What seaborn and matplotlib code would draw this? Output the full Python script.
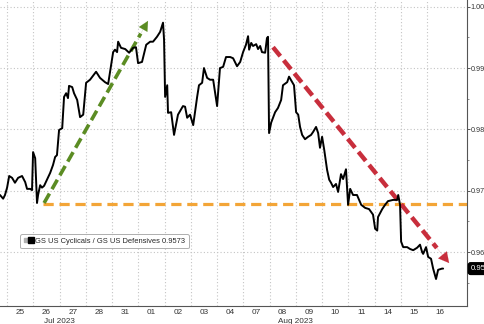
import matplotlib
matplotlib.use("Agg")
import matplotlib.pyplot as plt
import matplotlib.transforms as mtransforms
from matplotlib.lines import Line2D
from matplotlib.legend_handler import HandlerTuple
import numpy as np
import pandas as pd
import seaborn as sns

# ---------------- data (trading-day index, ratio value) ----------------
day_labels = ["25", "26", "27", "28", "31", "01", "02", "03", "04",
              "07", "08", "09", "10", "11", "14", "15", "16"]
month_labels = ["Jul 2023", "Aug 2023"]
month_label_pos = [2.0, 11.0]
month_break = [5]

t = [-0.27, -0.15, -0.08, 0.00, 0.08, 0.19, 0.30, 0.42, 0.57, 0.69, 0.76, 0.88, 0.95,
     0.99, 1.07, 1.14, 1.18, 1.26, 1.33, 1.41, 1.52, 1.64, 1.75, 1.83, 1.90, 1.98,
     2.10, 2.17, 2.25, 2.32, 2.36, 2.48, 2.55, 2.67, 2.78, 2.90, 3.01, 3.16, 3.39,
     3.54, 3.73, 3.85, 4.04, 4.11, 4.19, 4.23, 4.34, 4.50, 4.65, 4.80, 4.91, 4.99,
     5.14, 5.30, 5.45, 5.56, 5.71, 5.83, 5.94, 5.98, 6.02, 6.10, 6.13, 6.25, 6.36,
     6.51, 6.70, 6.78, 6.86, 6.97, 7.09, 7.24, 7.31, 7.43, 7.50, 7.62, 7.73, 7.85,
     8.00, 8.11, 8.23, 8.34, 8.50, 8.61, 8.76, 8.88, 8.99, 9.10, 9.18, 9.22, 9.30,
     9.37, 9.49, 9.56, 9.64, 9.71, 9.83, 9.90, 9.94, 9.98, 10.06, 10.13, 10.21,
     10.32, 10.44, 10.51, 10.67, 10.74, 10.86, 10.93, 11.01, 11.09, 11.16, 11.24,
     11.35, 11.47, 11.58, 11.66, 11.77, 11.85, 11.92, 12.00, 12.08, 12.19, 12.27,
     12.34, 12.42, 12.53, 12.61, 12.72, 12.80, 12.91, 12.99, 13.07, 13.18, 13.33,
     13.49, 13.64, 13.79, 13.94, 14.02, 14.10, 14.13, 14.29, 14.40, 14.51, 14.70,
     14.86, 14.90, 14.97, 15.01, 15.09, 15.24, 15.35, 15.47, 15.62, 15.73, 15.81,
     15.85, 15.96, 16.04, 16.15, 16.23, 16.34, 16.42, 16.57, 16.61]

ratio = [0.9693, 0.9687, 0.9693, 0.9705, 0.9724, 0.9721, 0.9713, 0.9721, 0.9724, 0.9714,
         0.9703, 0.9703, 0.9701, 0.9763, 0.9753, 0.9680, 0.9693, 0.9709, 0.9705, 0.9708,
         0.9718, 0.9729, 0.9742, 0.9755, 0.9758, 0.9799, 0.9802, 0.9853, 0.9859, 0.9851,
         0.9871, 0.9869, 0.9859, 0.9848, 0.9820, 0.9824, 0.9876, 0.9881, 0.9894, 0.9884,
         0.9877, 0.9874, 0.9926, 0.9930, 0.9926, 0.9943, 0.9933, 0.9931, 0.9925, 0.9933,
         0.9934, 0.9908, 0.9910, 0.9938, 0.9943, 0.9943, 0.9951, 0.9959, 0.9974, 0.9946,
         0.9853, 0.9872, 0.9827, 0.9828, 0.9791, 0.9824, 0.9838, 0.9837, 0.9819, 0.9824,
         0.9807, 0.9853, 0.9872, 0.9876, 0.9900, 0.9884, 0.9881, 0.9881, 0.9838, 0.9900,
         0.9902, 0.9918, 0.9918, 0.9916, 0.9903, 0.9910, 0.9926, 0.9938, 0.9952, 0.9930,
         0.9941, 0.9936, 0.9939, 0.9931, 0.9936, 0.9926, 0.9925, 0.9949, 0.9951, 0.9794,
         0.9811, 0.9819, 0.9828, 0.9835, 0.9848, 0.9872, 0.9877, 0.9886, 0.9877, 0.9872,
         0.9828, 0.9824, 0.9804, 0.9791, 0.9784, 0.9788, 0.9791, 0.9796, 0.9804, 0.9794,
         0.9770, 0.9788, 0.9767, 0.9734, 0.9718, 0.9713, 0.9706, 0.9711, 0.9698, 0.9727,
         0.9719, 0.9735, 0.9677, 0.9703, 0.9693, 0.9693, 0.9677, 0.9672, 0.9670, 0.9661,
         0.9638, 0.9635, 0.9657, 0.9670, 0.9677, 0.9683, 0.9685, 0.9685, 0.9693, 0.9677,
         0.9617, 0.9608, 0.9608, 0.9605, 0.9603, 0.9607, 0.9612, 0.9600, 0.9597, 0.9608,
         0.9592, 0.9589, 0.9573, 0.9556, 0.9571, 0.9573, 0.9573]

last_value = 0.9573
series_name = "GS US Cyclicals / GS US Defensives"

support_level = 0.9679
support_start = 1.37
up_arrow_x = [1.41, 5.37]
up_arrow_y = [0.9680, 0.9977]
down_arrow_x = [10.13, 16.84]
down_arrow_y = [0.9934, 0.9582]

y_ticks = [0.96, 0.97, 0.98, 0.99, 1.00]
y_minor = [0.955, 0.965, 0.975, 0.985, 0.995]

df = pd.DataFrame({"t": t, "ratio": ratio})

# ---------------- figure ----------------
sns.set_style("white")
plt.rcParams["font.family"] = ["Liberation Sans", "DejaVu Sans"]

FS = 5.9
TXT = "#333333"

fig = plt.figure(figsize=(4.85, 3.24), dpi=100)
ax = fig.add_axes([0, 18 / 324, 467 / 485, 306 / 324])

xmin, xmax = -0.27, 17.52
ymin, ymax = 0.9512, 1.0011
ax.set_xlim(xmin, xmax)
ax.set_ylim(ymin, ymax)

# grid
grid_kw = dict(color="#c4c4c4", lw=0.8, ls=(0, (1, 2)), zorder=0)
for k in range(len(day_labels)):
    ax.axvline(k, **grid_kw)
for yv in y_ticks:
    ax.axhline(yv, **grid_kw)

# support line
ax.plot([support_start, xmax], [support_level, support_level], color="#f3a537",
        lw=2.3, ls=(0, (3.2, 1.8)), zorder=2, solid_capstyle="butt")

# main series
sns.lineplot(data=df, x="t", y="ratio", ax=ax, color="black", lw=1.4, zorder=4,
             estimator=None, sort=False, legend=False)


def dashed_arrow(xs, ys, color, lw, dash, head_w, head_l):
    x0, x1 = xs
    y0, y1 = ys
    frac = 0.93
    ax.plot([x0, x0 + (x1 - x0) * frac], [y0, y0 + (y1 - y0) * frac], color=color,
            lw=lw, ls=(0, dash), zorder=3, solid_capstyle="butt", dash_capstyle="butt")
    ax.annotate("", xy=(x1, y1), xytext=(x0 + (x1 - x0) * 0.90, y0 + (y1 - y0) * 0.90),
                arrowprops=dict(arrowstyle=f"-|>,head_width={head_w},head_length={head_l}",
                                color=color, lw=0.1, shrinkA=0, shrinkB=0), zorder=3)


dashed_arrow(up_arrow_x, up_arrow_y, "#5b8c23", 2.6, (3.0, 1.4), 0.35, 0.7)
dashed_arrow(down_arrow_x, down_arrow_y, "#c82e3c", 3.2, (2.6, 1.2), 0.4, 0.75)

# axes styling
for s in ["left", "top"]:
    ax.spines[s].set_visible(False)
for s in ["right", "bottom"]:
    ax.spines[s].set_visible(True)
    ax.spines[s].set_color("#555555")
    ax.spines[s].set_linewidth(0.8)

ax.yaxis.tick_right()
ax.set_yticks(y_ticks)
ax.set_yticklabels([f"{v:.2f}" for v in y_ticks])
ax.set_yticks(y_minor, minor=True)
ax.tick_params(axis="y", which="major", direction="out", length=2.0, width=0.7,
               color="#555555", labelsize=5.2, labelcolor=TXT, pad=0.5)
ax.tick_params(axis="y", which="minor", direction="out", length=1.6, width=0.6,
               color="#777777")

ax.set_xticks([k + 0.5 for k in range(len(day_labels))])
ax.set_xticklabels(day_labels)
ax.set_xticks(month_break, minor=True)
ax.tick_params(axis="x", which="major", length=0, labelsize=FS,
               labelcolor=TXT, pad=2.0)
ax.tick_params(axis="x", which="minor", length=14, width=0.8, color="#555555")
ax.set_xlabel("")
ax.set_ylabel("")

trans = mtransforms.blended_transform_factory(ax.transData, ax.transAxes)
for lbl, pos in zip(month_labels, month_label_pos):
    ax.text(pos, -0.05, lbl, transform=trans, ha="center", va="center",
            fontsize=FS, color=TXT)

# legend
h_gray = Line2D([], [], marker="s", color="#b0b0b0", ls="none", markersize=2.3)
h_black = Line2D([], [], marker="s", color="black", ls="none", markersize=4.8)
leg = ax.legend([(h_gray, h_black)], [f"{series_name} {last_value:.4f}"],
                handler_map={tuple: HandlerTuple(ndivide=None, pad=0.05)},
                loc="center left", bbox_to_anchor=(0.035, 0.212), fontsize=5.4,
                frameon=True, handlelength=1.3, handletextpad=0.3,
                borderpad=0.45, fancybox=True)
leg.get_frame().set_edgecolor("#9a9a9a")
leg.get_frame().set_linewidth(0.7)
leg.get_frame().set_facecolor("white")
leg.set_zorder(6)

# last value tag (clipped at the right edge, as in the original)
ax.annotate(f"{last_value:.4f}", xy=(1.0, last_value),
            xycoords=mtransforms.blended_transform_factory(ax.transAxes, ax.transData),
            xytext=(2.6, 0), textcoords="offset points", ha="left", va="center",
            fontsize=5.6, color="white", annotation_clip=False,
            bbox=dict(boxstyle="round,pad=0.3", fc="black", ec="black"))

fig.savefig("out.png", dpi=100)
